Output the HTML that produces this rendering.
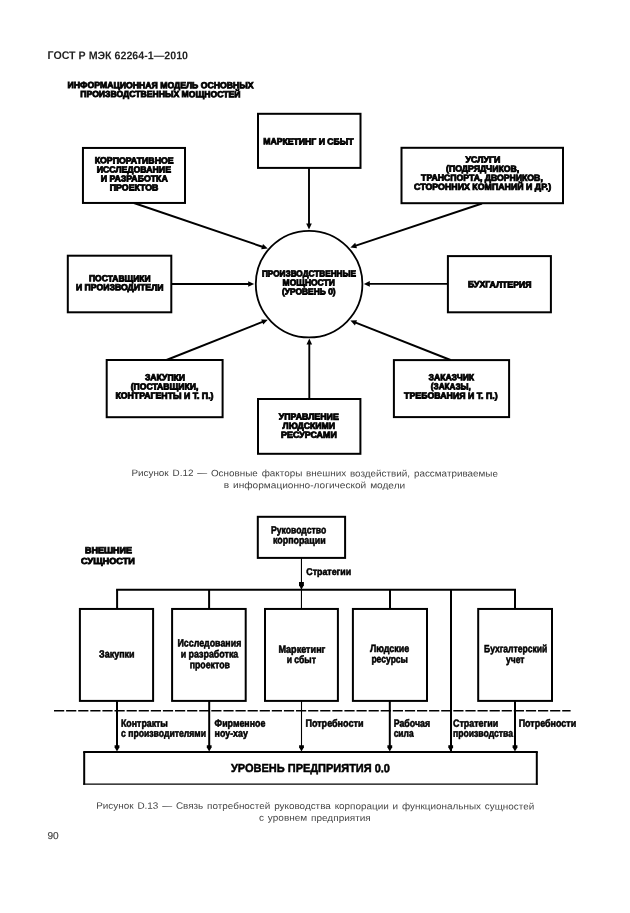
<!DOCTYPE html>
<html lang="ru"><head><meta charset="utf-8"><title>ГОСТ Р МЭК 62264-1—2010</title>
<style>
html,body{margin:0;padding:0;background:#fff;}
body{width:630px;height:913px;overflow:hidden;}
svg{display:block;will-change:transform;filter:grayscale(1);font-family:"Liberation Sans",sans-serif;}
text{white-space:pre;}
</style></head><body>
<svg width="630" height="913" viewBox="0 0 630 913">
<rect width="630" height="913" fill="#fff"/>
<text transform="rotate(0.1 47.5 59.1)" x="47.50" y="59.10" font-size="11.2" font-weight="bold" fill="#222" textLength="140.50" lengthAdjust="spacingAndGlyphs">ГОСТ Р МЭК 62264-1—2010</text>
<text transform="rotate(0.1 67.6 88.0)" x="67.60" y="88.05" font-size="8.9" font-weight="bold" fill="#000" stroke="#000" stroke-width="0.85" textLength="186.00" lengthAdjust="spacingAndGlyphs">ИНФОРМАЦИОННАЯ МОДЕЛЬ ОСНОВНЫХ</text>
<text transform="rotate(0.1 80.3 97.0)" x="80.30" y="96.95" font-size="8.9" font-weight="bold" fill="#000" stroke="#000" stroke-width="0.85" textLength="160.10" lengthAdjust="spacingAndGlyphs">ПРОИЗВОДСТВЕННЫХ МОЩНОСТЕЙ</text>
<line x1="309.00" y1="168.00" x2="309.00" y2="224.60" stroke="#000" stroke-width="1.9" />
<polygon points="309.00,229.60 306.20,223.60 311.80,223.60" fill="#000"/>
<line x1="309.30" y1="399.00" x2="309.30" y2="343.60" stroke="#000" stroke-width="1.9" />
<polygon points="309.30,338.60 312.10,344.60 306.50,344.60" fill="#000"/>
<line x1="171.00" y1="284.00" x2="249.20" y2="284.00" stroke="#000" stroke-width="1.9" />
<polygon points="254.20,284.00 248.20,286.80 248.20,281.20" fill="#000"/>
<line x1="448.00" y1="283.90" x2="368.80" y2="283.90" stroke="#000" stroke-width="1.9" />
<polygon points="363.80,283.90 369.80,281.10 369.80,286.70" fill="#000"/>
<line x1="133.90" y1="203.00" x2="263.07" y2="246.99" stroke="#000" stroke-width="1.9" />
<polygon points="267.80,248.60 261.22,249.32 263.02,244.02" fill="#000"/>
<line x1="482.00" y1="203.50" x2="355.14" y2="245.82" stroke="#000" stroke-width="1.9" />
<polygon points="350.40,247.40 355.21,242.85 356.98,248.16" fill="#000"/>
<line x1="166.50" y1="360.00" x2="263.15" y2="321.64" stroke="#000" stroke-width="1.9" />
<polygon points="267.80,319.80 263.26,324.62 261.19,319.41" fill="#000"/>
<line x1="450.50" y1="360.00" x2="355.05" y2="322.43" stroke="#000" stroke-width="1.9" />
<polygon points="350.40,320.60 357.01,320.19 354.96,325.40" fill="#000"/>
<circle cx="309.1" cy="284.1" r="53.3" fill="none" stroke="#000" stroke-width="1.8"/>
<rect x="82.95" y="147.95" width="102.05" height="55.00" fill="#fff" stroke="#000" stroke-width="2.0"/>
<rect x="258.00" y="113.80" width="102.50" height="54.10" fill="#fff" stroke="#000" stroke-width="2.0"/>
<rect x="401.50" y="147.80" width="161.50" height="55.40" fill="#fff" stroke="#000" stroke-width="2.0"/>
<rect x="67.80" y="255.70" width="103.50" height="56.60" fill="#fff" stroke="#000" stroke-width="2.0"/>
<rect x="447.90" y="256.10" width="103.00" height="56.20" fill="#fff" stroke="#000" stroke-width="2.0"/>
<rect x="106.70" y="360.00" width="115.90" height="57.20" fill="#fff" stroke="#000" stroke-width="2.0"/>
<rect x="393.90" y="360.10" width="115.20" height="57.00" fill="#fff" stroke="#000" stroke-width="2.0"/>
<rect x="258.00" y="399.00" width="102.40" height="54.80" fill="#fff" stroke="#000" stroke-width="2.0"/>
<text transform="rotate(0.1 94.7 163.4)" x="94.70" y="163.35" font-size="8.9" font-weight="bold" fill="#000" stroke="#000" stroke-width="0.85" textLength="78.90" lengthAdjust="spacingAndGlyphs">КОРПОРАТИВНОЕ</text>
<text transform="rotate(0.1 96.7 172.5)" x="96.70" y="172.45" font-size="8.9" font-weight="bold" fill="#000" stroke="#000" stroke-width="0.85" textLength="74.30" lengthAdjust="spacingAndGlyphs">ИССЛЕДОВАНИЕ</text>
<text transform="rotate(0.1 100.7 181.5)" x="100.70" y="181.45" font-size="8.9" font-weight="bold" fill="#000" stroke="#000" stroke-width="0.85" textLength="67.10" lengthAdjust="spacingAndGlyphs">И РАЗРАБОТКА</text>
<text transform="rotate(0.1 109.8 190.5)" x="109.80" y="190.50" font-size="8.9" font-weight="bold" fill="#000" stroke="#000" stroke-width="0.85" textLength="48.50" lengthAdjust="spacingAndGlyphs">ПРОЕКТОВ</text>
<text transform="rotate(0.1 263.2 144.4)" x="263.20" y="144.35" font-size="8.9" font-weight="bold" fill="#000" stroke="#000" stroke-width="0.85" textLength="90.40" lengthAdjust="spacingAndGlyphs">МАРКЕТИНГ И СБЫТ</text>
<text transform="rotate(0.1 465.6 162.6)" x="465.60" y="162.55" font-size="8.9" font-weight="bold" fill="#000" stroke="#000" stroke-width="0.85" textLength="34.70" lengthAdjust="spacingAndGlyphs">УСЛУГИ</text>
<text transform="rotate(0.1 446.0 171.6)" x="446.00" y="171.55" font-size="8.9" font-weight="bold" fill="#000" stroke="#000" stroke-width="0.85" textLength="73.30" lengthAdjust="spacingAndGlyphs">(ПОДРЯДЧИКОВ,</text>
<text transform="rotate(0.1 421.1 180.6)" x="421.10" y="180.60" font-size="8.9" font-weight="bold" fill="#000" stroke="#000" stroke-width="0.85" textLength="121.70" lengthAdjust="spacingAndGlyphs">ТРАНСПОРТА, ДВОРНИКОВ,</text>
<text transform="rotate(0.1 414.1 189.7)" x="414.10" y="189.65" font-size="8.9" font-weight="bold" fill="#000" stroke="#000" stroke-width="0.85" textLength="137.00" lengthAdjust="spacingAndGlyphs">СТОРОННИХ КОМПАНИЙ И ДР.)</text>
<text transform="rotate(0.1 89.0 281.4)" x="89.00" y="281.35" font-size="8.9" font-weight="bold" fill="#000" stroke="#000" stroke-width="0.85" textLength="61.60" lengthAdjust="spacingAndGlyphs">ПОСТАВЩИКИ</text>
<text transform="rotate(0.1 75.9 290.2)" x="75.90" y="290.25" font-size="8.9" font-weight="bold" fill="#000" stroke="#000" stroke-width="0.85" textLength="87.60" lengthAdjust="spacingAndGlyphs">И ПРОИЗВОДИТЕЛИ</text>
<text transform="rotate(0.1 468.0 287.4)" x="468.00" y="287.35" font-size="8.9" font-weight="bold" fill="#000" stroke="#000" stroke-width="0.85" textLength="63.40" lengthAdjust="spacingAndGlyphs">БУХГАЛТЕРИЯ</text>
<text transform="rotate(0.1 261.9 276.4)" x="261.90" y="276.45" font-size="8.9" font-weight="bold" fill="#000" stroke="#000" stroke-width="0.85" textLength="94.20" lengthAdjust="spacingAndGlyphs">ПРОИЗВОДСТВЕННЫЕ</text>
<text transform="rotate(0.1 282.6 285.4)" x="282.60" y="285.45" font-size="8.9" font-weight="bold" fill="#000" stroke="#000" stroke-width="0.85" textLength="52.20" lengthAdjust="spacingAndGlyphs">МОЩНОСТИ</text>
<text transform="rotate(0.1 282.0 294.4)" x="282.00" y="294.45" font-size="8.9" font-weight="bold" fill="#000" stroke="#000" stroke-width="0.85" textLength="53.60" lengthAdjust="spacingAndGlyphs">(УРОВЕНЬ 0)</text>
<text transform="rotate(0.1 144.9 380.4)" x="144.90" y="380.35" font-size="8.9" font-weight="bold" fill="#000" stroke="#000" stroke-width="0.85" textLength="40.20" lengthAdjust="spacingAndGlyphs">ЗАКУПКИ</text>
<text transform="rotate(0.1 130.7 389.4)" x="130.70" y="389.45" font-size="8.9" font-weight="bold" fill="#000" stroke="#000" stroke-width="0.85" textLength="67.60" lengthAdjust="spacingAndGlyphs">(ПОСТАВЩИКИ,</text>
<text transform="rotate(0.1 115.4 398.6)" x="115.40" y="398.55" font-size="8.9" font-weight="bold" fill="#000" stroke="#000" stroke-width="0.85" textLength="98.10" lengthAdjust="spacingAndGlyphs">КОНТРАГЕНТЫ И Т. П.)</text>
<text transform="rotate(0.1 428.6 380.2)" x="428.60" y="380.15" font-size="8.9" font-weight="bold" fill="#000" stroke="#000" stroke-width="0.85" textLength="45.50" lengthAdjust="spacingAndGlyphs">ЗАКАЗЧИК</text>
<text transform="rotate(0.1 430.8 389.4)" x="430.80" y="389.35" font-size="8.9" font-weight="bold" fill="#000" stroke="#000" stroke-width="0.85" textLength="40.10" lengthAdjust="spacingAndGlyphs">(ЗАКАЗЫ,</text>
<text transform="rotate(0.1 404.1 398.6)" x="404.10" y="398.55" font-size="8.9" font-weight="bold" fill="#000" stroke="#000" stroke-width="0.85" textLength="93.50" lengthAdjust="spacingAndGlyphs">ТРЕБОВАНИЯ И Т. П.)</text>
<text transform="rotate(0.1 278.8 419.6)" x="278.80" y="419.55" font-size="8.9" font-weight="bold" fill="#000" stroke="#000" stroke-width="0.85" textLength="60.00" lengthAdjust="spacingAndGlyphs">УПРАВЛЕНИЕ</text>
<text transform="rotate(0.1 282.5 428.7)" x="282.50" y="428.65" font-size="8.9" font-weight="bold" fill="#000" stroke="#000" stroke-width="0.85" textLength="52.60" lengthAdjust="spacingAndGlyphs">ЛЮДСКИМИ</text>
<text transform="rotate(0.1 281.1 437.8)" x="281.10" y="437.75" font-size="8.9" font-weight="bold" fill="#000" stroke="#000" stroke-width="0.85" textLength="55.70" lengthAdjust="spacingAndGlyphs">РЕСУРСАМИ</text>
<text transform="rotate(0.1 131.4 476.0)" x="131.40" y="476.00" font-size="9.2" font-weight="normal" fill="#444" textLength="366.60" lengthAdjust="spacingAndGlyphs" word-spacing="1.0">Рисунок D.12 — Основные факторы внешних воздействий, рассматриваемые</text>
<text transform="rotate(0.1 223.8 488.1)" x="223.80" y="488.10" font-size="9.2" font-weight="normal" fill="#444" textLength="181.40" lengthAdjust="spacingAndGlyphs" word-spacing="1.0">в информационно-логической модели</text>
<text transform="rotate(0.1 85.0 553.1)" x="85.00" y="553.15" font-size="8.9" font-weight="bold" fill="#000" stroke="#000" stroke-width="0.85" textLength="46.90" lengthAdjust="spacingAndGlyphs">ВНЕШНИЕ</text>
<text transform="rotate(0.1 81.1 563.9)" x="81.10" y="563.95" font-size="8.9" font-weight="bold" fill="#000" stroke="#000" stroke-width="0.85" textLength="53.70" lengthAdjust="spacingAndGlyphs">СУЩНОСТИ</text>
<line x1="116.10" y1="589.80" x2="516.00" y2="589.80" stroke="#000" stroke-width="2.0" />
<line x1="117.10" y1="589.80" x2="117.10" y2="609.00" stroke="#000" stroke-width="2.0" />
<line x1="209.10" y1="589.80" x2="209.10" y2="609.00" stroke="#000" stroke-width="2.0" />
<line x1="390.00" y1="589.80" x2="390.00" y2="609.00" stroke="#000" stroke-width="2.0" />
<line x1="515.00" y1="589.80" x2="515.00" y2="609.00" stroke="#000" stroke-width="2.0" />
<line x1="301.45" y1="558.00" x2="301.45" y2="609.00" stroke="#000" stroke-width="1.1" />
<polygon points="299.0,581.9 303.9,581.9 303.9,585.2 301.45,589.4 299.0,585.2" fill="#000"/>
<line x1="451.00" y1="589.80" x2="451.00" y2="752.00" stroke="#000" stroke-width="2.0" />
<rect x="257.80" y="516.80" width="87.30" height="41.10" fill="#fff" stroke="#000" stroke-width="2.0"/>
<rect x="79.90" y="608.95" width="73.20" height="91.95" fill="#fff" stroke="#000" stroke-width="2.0"/>
<rect x="172.10" y="608.95" width="73.60" height="91.95" fill="#fff" stroke="#000" stroke-width="2.0"/>
<rect x="265.00" y="608.95" width="72.90" height="91.95" fill="#fff" stroke="#000" stroke-width="2.0"/>
<rect x="352.90" y="608.95" width="74.10" height="91.95" fill="#fff" stroke="#000" stroke-width="2.0"/>
<rect x="478.20" y="608.95" width="73.80" height="91.95" fill="#fff" stroke="#000" stroke-width="2.0"/>
<line x1="54.00" y1="710.70" x2="570.60" y2="710.70" stroke="#000" stroke-width="1.5" stroke-dasharray="10.2 1.9"/>
<line x1="117.00" y1="701.00" x2="117.00" y2="748.00" stroke="#000" stroke-width="2.0" />
<polygon points="114.6,745.2 119.4,745.2 119.4,747.2 117.0,751.6 114.6,747.2" fill="#000"/>
<line x1="209.20" y1="701.00" x2="209.20" y2="748.00" stroke="#000" stroke-width="2.0" />
<polygon points="206.79999999999998,745.2 211.6,745.2 211.6,747.2 209.2,751.6 206.79999999999998,747.2" fill="#000"/>
<line x1="301.50" y1="701.00" x2="301.50" y2="748.00" stroke="#000" stroke-width="1.1" />
<polygon points="299.1,745.2 303.9,745.2 303.9,747.2 301.5,751.6 299.1,747.2" fill="#000"/>
<line x1="389.80" y1="701.00" x2="389.80" y2="748.00" stroke="#000" stroke-width="2.0" />
<polygon points="387.40000000000003,745.2 392.2,745.2 392.2,747.2 389.8,751.6 387.40000000000003,747.2" fill="#000"/>
<line x1="450.70" y1="745.00" x2="450.70" y2="748.00" stroke="#000" stroke-width="2.0" />
<polygon points="448.3,745.2 453.09999999999997,745.2 453.09999999999997,747.2 450.7,751.6 448.3,747.2" fill="#000"/>
<line x1="515.00" y1="701.00" x2="515.00" y2="748.00" stroke="#000" stroke-width="2.0" />
<polygon points="512.6,745.2 517.4,745.2 517.4,747.2 515.0,751.6 512.6,747.2" fill="#000"/>
<rect x="84.2" y="751.9" width="452.6" height="32.2" fill="#fff"/>
<line x1="83.20" y1="751.90" x2="537.80" y2="751.90" stroke="#000" stroke-width="2.0" />
<line x1="84.20" y1="751.90" x2="84.20" y2="784.75" stroke="#000" stroke-width="2.0" />
<line x1="536.80" y1="751.90" x2="536.80" y2="784.75" stroke="#000" stroke-width="2.0" />
<line x1="83.20" y1="784.10" x2="537.80" y2="784.10" stroke="#000" stroke-width="1.3" />
<text transform="rotate(0.1 271.0 533.5)" x="271.00" y="533.50" font-size="10.5" font-weight="bold" fill="#000" stroke="#000" stroke-width="0.55" textLength="55.20" lengthAdjust="spacingAndGlyphs">Руководство</text>
<text transform="rotate(0.1 273.0 543.6)" x="273.00" y="543.60" font-size="10.5" font-weight="bold" fill="#000" stroke="#000" stroke-width="0.55" textLength="52.60" lengthAdjust="spacingAndGlyphs">корпорации</text>
<text transform="rotate(0.1 306.3 574.9)" x="306.30" y="574.90" font-size="9.8" font-weight="bold" fill="#000" stroke="#000" stroke-width="0.55" textLength="44.90" lengthAdjust="spacingAndGlyphs">Стратегии</text>
<text transform="rotate(0.1 99.1 657.5)" x="99.10" y="657.50" font-size="10.5" font-weight="bold" fill="#000" stroke="#000" stroke-width="0.55" textLength="35.50" lengthAdjust="spacingAndGlyphs">Закупки</text>
<text transform="rotate(0.1 177.5 646.5)" x="177.50" y="646.50" font-size="10.5" font-weight="bold" fill="#000" stroke="#000" stroke-width="0.55" textLength="63.80" lengthAdjust="spacingAndGlyphs">Исследования</text>
<text transform="rotate(0.1 180.7 657.5)" x="180.70" y="657.50" font-size="10.5" font-weight="bold" fill="#000" stroke="#000" stroke-width="0.55" textLength="57.60" lengthAdjust="spacingAndGlyphs">и разработка</text>
<text transform="rotate(0.1 189.7 668.2)" x="189.70" y="668.20" font-size="10.5" font-weight="bold" fill="#000" stroke="#000" stroke-width="0.55" textLength="40.20" lengthAdjust="spacingAndGlyphs">проектов</text>
<text transform="rotate(0.1 278.4 652.8)" x="278.40" y="652.80" font-size="10.5" font-weight="bold" fill="#000" stroke="#000" stroke-width="0.55" textLength="47.00" lengthAdjust="spacingAndGlyphs">Маркетинг</text>
<text transform="rotate(0.1 286.7 663.1)" x="286.70" y="663.10" font-size="10.5" font-weight="bold" fill="#000" stroke="#000" stroke-width="0.55" textLength="29.20" lengthAdjust="spacingAndGlyphs">и сбыт</text>
<text transform="rotate(0.1 369.9 651.9)" x="369.90" y="651.90" font-size="10.5" font-weight="bold" fill="#000" stroke="#000" stroke-width="0.55" textLength="39.30" lengthAdjust="spacingAndGlyphs">Людские</text>
<text transform="rotate(0.1 371.4 662.6)" x="371.40" y="662.60" font-size="10.5" font-weight="bold" fill="#000" stroke="#000" stroke-width="0.55" textLength="36.50" lengthAdjust="spacingAndGlyphs">ресурсы</text>
<text transform="rotate(0.1 484.1 652.2)" x="484.10" y="652.20" font-size="10.5" font-weight="bold" fill="#000" stroke="#000" stroke-width="0.55" textLength="63.20" lengthAdjust="spacingAndGlyphs">Бухгалтерский</text>
<text transform="rotate(0.1 506.0 663.0)" x="506.00" y="663.00" font-size="10.5" font-weight="bold" fill="#000" stroke="#000" stroke-width="0.55" textLength="18.40" lengthAdjust="spacingAndGlyphs">учет</text>
<text transform="rotate(0.1 121.0 726.7)" x="121.00" y="726.70" font-size="10.5" font-weight="bold" fill="#000" stroke="#000" stroke-width="0.55" textLength="46.90" lengthAdjust="spacingAndGlyphs">Контракты</text>
<text transform="rotate(0.1 121.0 736.7)" x="121.00" y="736.70" font-size="10.5" font-weight="bold" fill="#000" stroke="#000" stroke-width="0.55" textLength="85.00" lengthAdjust="spacingAndGlyphs">с производителями</text>
<text transform="rotate(0.1 214.6 726.7)" x="214.60" y="726.70" font-size="10.5" font-weight="bold" fill="#000" stroke="#000" stroke-width="0.55" textLength="50.80" lengthAdjust="spacingAndGlyphs">Фирменное</text>
<text transform="rotate(0.1 214.6 736.7)" x="214.60" y="736.70" font-size="10.5" font-weight="bold" fill="#000" stroke="#000" stroke-width="0.55" textLength="33.30" lengthAdjust="spacingAndGlyphs">ноу-хау</text>
<text transform="rotate(0.1 305.4 726.7)" x="305.40" y="726.70" font-size="10.5" font-weight="bold" fill="#000" stroke="#000" stroke-width="0.55" textLength="58.10" lengthAdjust="spacingAndGlyphs">Потребности</text>
<text transform="rotate(0.1 393.7 726.7)" x="393.70" y="726.70" font-size="10.5" font-weight="bold" fill="#000" stroke="#000" stroke-width="0.55" textLength="36.40" lengthAdjust="spacingAndGlyphs">Рабочая</text>
<text transform="rotate(0.1 393.7 736.7)" x="393.70" y="736.70" font-size="10.5" font-weight="bold" fill="#000" stroke="#000" stroke-width="0.55" textLength="19.90" lengthAdjust="spacingAndGlyphs">сила</text>
<text transform="rotate(0.1 453.0 726.7)" x="453.00" y="726.70" font-size="10.5" font-weight="bold" fill="#000" stroke="#000" stroke-width="0.55" textLength="45.30" lengthAdjust="spacingAndGlyphs">Стратегии</text>
<text transform="rotate(0.1 453.0 736.7)" x="453.00" y="736.70" font-size="10.5" font-weight="bold" fill="#000" stroke="#000" stroke-width="0.55" textLength="60.00" lengthAdjust="spacingAndGlyphs">производства</text>
<text transform="rotate(0.1 518.7 726.7)" x="518.70" y="726.70" font-size="10.5" font-weight="bold" fill="#000" stroke="#000" stroke-width="0.55" textLength="57.50" lengthAdjust="spacingAndGlyphs">Потребности</text>
<text transform="rotate(0.1 231.0 771.9)" x="231.00" y="771.90" font-size="11.8" font-weight="bold" fill="#000" stroke="#000" stroke-width="0.5" textLength="159.00" lengthAdjust="spacingAndGlyphs">УРОВЕНЬ ПРЕДПРИЯТИЯ 0.0</text>
<text transform="rotate(0.1 96.2 808.7)" x="96.20" y="808.70" font-size="9.2" font-weight="normal" fill="#444" textLength="438.10" lengthAdjust="spacingAndGlyphs" word-spacing="1.0">Рисунок D.13 — Связь потребностей руководства корпорации и функциональных сущностей</text>
<text transform="rotate(0.1 259.0 820.8)" x="259.00" y="820.80" font-size="9.2" font-weight="normal" fill="#444" textLength="111.80" lengthAdjust="spacingAndGlyphs" word-spacing="1.0">с уровнем предприятия</text>
<text transform="rotate(0.1 47.5 839.0)" x="47.50" y="839.00" font-size="10" font-weight="normal" fill="#444" stroke="#444" stroke-width="0.15" textLength="11.20" lengthAdjust="spacingAndGlyphs">90</text>
</svg>
</body></html>
